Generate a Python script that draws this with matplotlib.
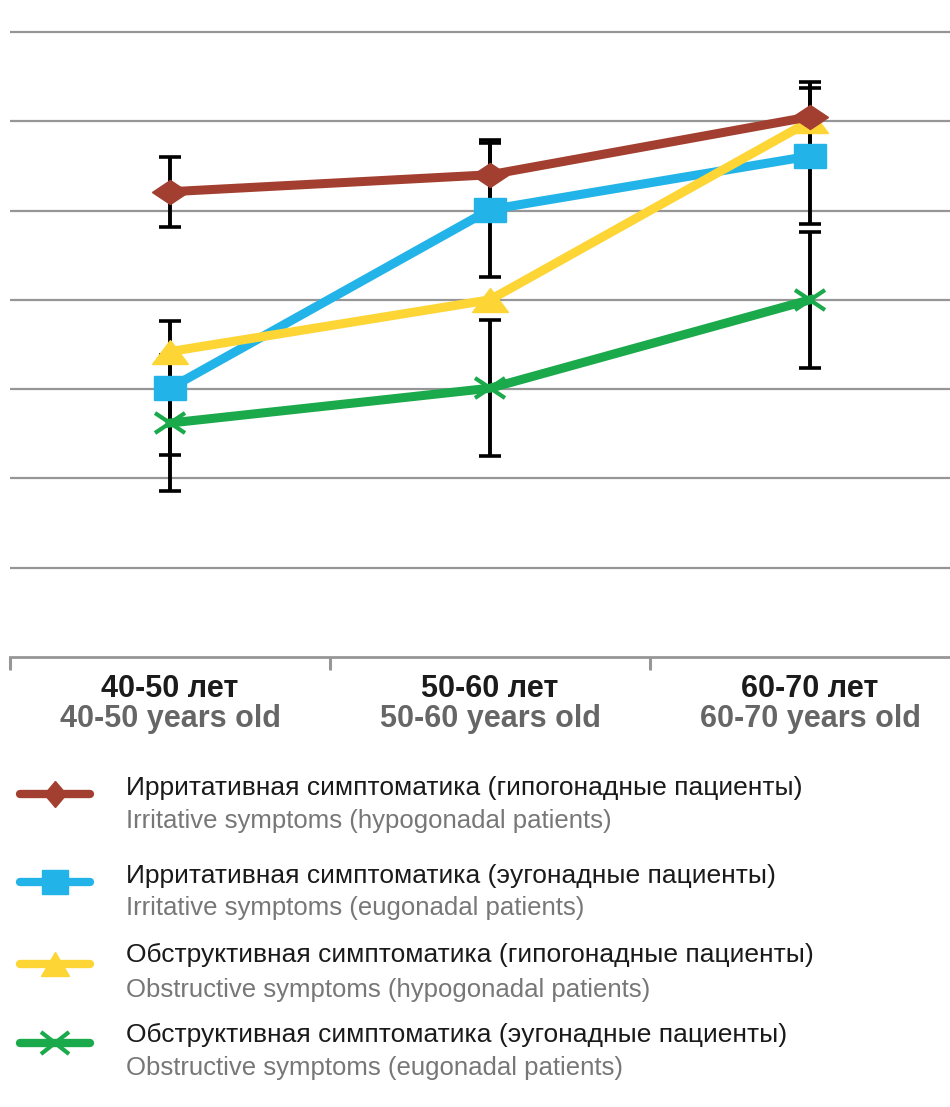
import matplotlib.pyplot as plt
from matplotlib.lines import Line2D
from matplotlib.markers import MarkerStyle
from matplotlib.transforms import Affine2D

plt.rcParams['font.family'] = ['Liberation Sans', 'DejaVu Sans']

# values (no y scale printed, unit = one grid step)
groups_ru = ['40-50 лет', '50-60 лет', '60-70 лет']
groups_en = ['40-50 years old', '50-60 years old', '60-70 years old']

irr_hypo = [5.21, 5.40, 6.05]
irr_hypo_err = [0.39, 0.39, 0.39]
irr_eu = [3.01, 5.01, 5.61]
irr_eu_err = [0.75, 0.75, 0.76]
obs_hypo = [3.42, 4.00, 6.00]
obs_eu = [2.62, 3.01, 4.00]
obs_eu_err = [0.76, 0.76, 0.76]

labels_ru = ['Ирритативная симптоматика (гипогонадные пациенты)',
             'Ирритативная симптоматика (эугонадные пациенты)',
             'Обструктивная симптоматика (гипогонадные пациенты)',
             'Обструктивная симптоматика (эугонадные пациенты)']
labels_en = ['Irritative symptoms (hypogonadal patients)',
             'Irritative symptoms (eugonadal patients)',
             'Obstructive symptoms (hypogonadal patients)',
             'Obstructive symptoms (eugonadal patients)']

colors = ['#A33F30', '#22B4E8', '#FDD535', '#1BAA4B']


def mk(m, sx):
    # markers in the original are stretched sideways
    return MarkerStyle(m, transform=Affine2D().scale(sx, 1.0))


W, H = 950, 1107
step = 89.3  # px per grid step

fig = plt.figure(figsize=(W / 100, H / 100), dpi=100)
ax = fig.add_axes([10 / W, (H - 657) / H, 960 / W, (657 - 20) / H])

x = [0, 1, 2]

# error bars under the lines
eb = dict(fmt='none', ecolor='black', elinewidth=2.8, capsize=8,
          capthick=2.6, zorder=2.5)
ax.errorbar(x, irr_hypo, yerr=irr_hypo_err, **eb)
ax.errorbar(x, irr_eu, yerr=irr_eu_err, **eb)
ax.errorbar(x, obs_eu, yerr=obs_eu_err, **eb)

lw = 6.5
ax.plot(x, irr_eu, color=colors[1], lw=lw, marker=mk('s', 1.43), ms=16.6,
        mec=colors[1], zorder=3)
ax.plot(x, obs_hypo, color=colors[2], lw=lw, marker=mk('^', 1.6), ms=16.6,
        mec=colors[2], zorder=4)
ax.plot(x, obs_eu, color=colors[3], lw=lw, marker=mk('x', 1.5), ms=14.5,
        mew=3, mec=colors[3], zorder=5)
ax.plot(x, irr_hypo, color=colors[0], lw=lw, marker=mk('D', 1.5), ms=12.2,
        mec=colors[0], zorder=6)

ax.set_xlim(-0.5, 2.5)
ax.set_ylim(0, 637 / step)
ax.set_yticks(range(1, 8))
ax.tick_params(axis='y', length=0, labelleft=False)
ax.grid(axis='y', color='#969696', lw=1.6)
ax.set_axisbelow(True)
ax.set_xticks([-0.5, 0.5, 1.5, 2.5])
ax.tick_params(axis='x', direction='out', length=9, width=2.2,
               color='#969696', labelbottom=False)
for s in ['top', 'right', 'left']:
    ax.spines[s].set_visible(False)
ax.spines['bottom'].set_color('#969696')
ax.spines['bottom'].set_linewidth(2)

for i in x:
    ax.text(i, -40 / step, groups_ru[i], ha='center', va='baseline',
            fontsize=22, fontweight='bold', color='#1b1b1b', clip_on=False)
    ax.text(i, -70 / step, groups_en[i], ha='center', va='baseline',
            fontsize=22, fontweight='bold', color='#666666', clip_on=False)

# legend drawn by hand (two text colours per entry)
line_y = [794, 882, 964, 1043]
ru_y = [795, 883, 962, 1042]
en_y = [828, 915, 997, 1075]
leg_markers = [(mk('D', 0.87), 13, 0), (mk('s', 1.13), 16.6, 0),
               (mk('^', 1.22), 16.6, 0), (mk('x', 1.3), 15.5, 3)]

for i in range(4):
    yf = 1 - line_y[i] / H
    fig.add_artist(Line2D([20 / W, 90 / W], [yf, yf], transform=fig.transFigure,
                          color=colors[i], lw=6, solid_capstyle='round'))
    m, ms, mew = leg_markers[i]
    kw = dict(mew=mew) if mew else {}
    fig.add_artist(Line2D([55 / W], [yf], transform=fig.transFigure, marker=m,
                          ms=ms, color=colors[i], mec=colors[i], ls='none', **kw))
    fig.text(126 / W, 1 - ru_y[i] / H, labels_ru[i], fontsize=19,
             color='#1a1a1a', va='baseline')
    fig.text(126 / W, 1 - en_y[i] / H, labels_en[i], fontsize=18.5,
             color='#777777', va='baseline')

fig.savefig('out.png', dpi=100)
